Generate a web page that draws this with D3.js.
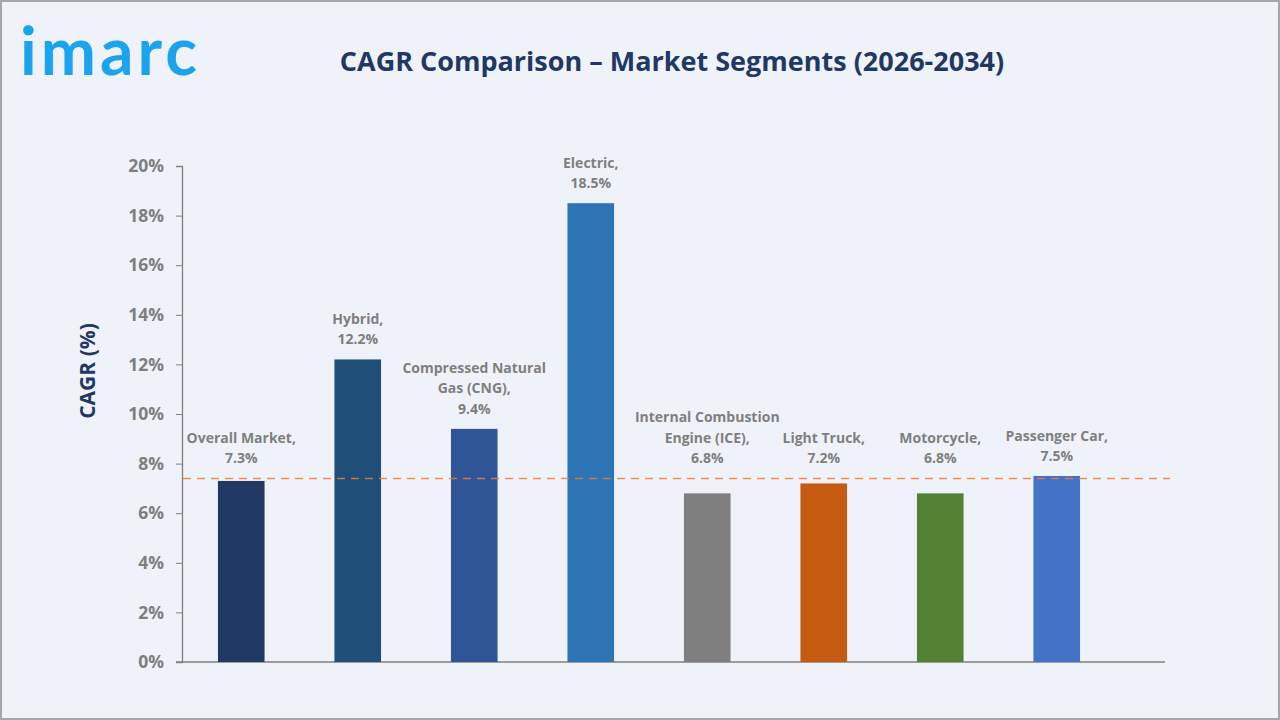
<!DOCTYPE html>
<html>
<head>
<meta charset="utf-8">
<script src="https://cdn.jsdelivr.net/npm/d3@7"></script>
<style>
  html, body { margin: 0; padding: 0; background: #eff3f9; }
  #chart { width: 1280px; height: 720px; }
</style>
</head>
<body>
<div id="chart"></div>
<script>
// chart data
const segments = ["Overall Market", "Hybrid", "Compressed Natural Gas (CNG)", "Electric",
    "Internal Combustion Engine (ICE)", "Light Truck", "Motorcycle", "Passenger Car"];
const labelLines = [
    ["Overall Market,"], ["Hybrid,"], ["Compressed Natural", "Gas (CNG),"], ["Electric,"],
    ["Internal Combustion", "Engine (ICE),"], ["Light Truck,"], ["Motorcycle,"], ["Passenger Car,"]
];
const cagr = [7.3, 12.2, 9.4, 18.5, 6.8, 7.2, 6.8, 7.5];
const barColors = ["#203864", "#1f4e79", "#2f5597", "#2e75b6", "#7f7f7f", "#c55a11", "#548235", "#4472c4"];
const referenceLine = 7.4;
const yTicks = [0, 2, 4, 6, 8, 10, 12, 14, 16, 18, 20];

const W = 1280, H = 720;
const svg = d3.select("#chart").append("svg")
    .attr("width", W)
    .attr("height", H);

// frame
svg.append("rect")
    .attr("x", 1).attr("y", 1)
    .attr("width", W - 2).attr("height", H - 2)
    .attr("fill", "#eff3f9")
    .attr("stroke", "#a6a6a6")
    .attr("stroke-width", 2);

// logo
svg.append("text")
    .attr("x", 20).attr("y", 75)
    .attr("font-family", "Lato, sans-serif")
    .attr("font-weight", "bold")
    .attr("font-size", 66)
    .attr("letter-spacing", 4)
    .attr("fill", "#1ba3ee")
    .text("imarc");

// title
svg.append("text")
    .attr("x", 672).attr("y", 71)
    .attr("text-anchor", "middle")
    .attr("font-family", "'Open Sans', sans-serif")
    .attr("font-weight", "bold")
    .attr("font-size", 27)
    .attr("fill", "#1f3864")
    .text("CAGR Comparison – Market Segments (2026-2034)");

// scales
const x = d3.scaleBand()
    .domain(segments)
    .range([183, 1115])
    .paddingInner(0.6)
    .paddingOuter(0.3);

const y = d3.scaleLinear()
    .domain([0, 20])
    .range([662, 166]);

// y axis
const yAxis = svg.append("g")
    .attr("transform", "translate(182,0)")
    .call(d3.axisLeft(y).tickValues(yTicks).tickSize(6).tickPadding(12).tickFormat(d => d + "%"));
yAxis.select(".domain").attr("stroke", "#7f7f7f").attr("stroke-width", 1.3);
yAxis.selectAll(".tick line").attr("stroke", "#7f7f7f");
yAxis.selectAll(".tick text")
    .attr("font-family", "'Open Sans', sans-serif")
    .attr("font-size", 17.5)
    .attr("font-weight", "bold")
    .attr("fill", "#7f7f7f");

// x axis line
svg.append("line")
    .attr("x1", 176).attr("x2", 1165)
    .attr("y1", y(0)).attr("y2", y(0))
    .attr("stroke", "#7f7f7f")
    .attr("stroke-width", 1.3);

// y axis title
svg.append("text")
    .attr("transform", "translate(95,371) rotate(-90)")
    .attr("text-anchor", "middle")
    .attr("font-family", "'Open Sans', sans-serif")
    .attr("font-weight", "bold")
    .attr("font-size", 21)
    .attr("fill", "#1f3864")
    .text("CAGR (%)");

// bars
svg.selectAll("rect.bar")
    .data(segments)
    .enter().append("rect")
    .attr("class", "bar")
    .attr("x", d => x(d))
    .attr("y", (d, i) => y(cagr[i]))
    .attr("width", x.bandwidth())
    .attr("height", (d, i) => y(0) - y(cagr[i]))
    .attr("fill", (d, i) => barColors[i]);

// dashed reference line
svg.append("line")
    .attr("x1", 183).attr("x2", 1170)
    .attr("y1", y(referenceLine)).attr("y2", y(referenceLine))
    .attr("stroke", "#ed7d31")
    .attr("stroke-width", 1.6)
    .attr("stroke-dasharray", "8,6")
    .attr("opacity", 0.85);

// data labels
const lineH = 20.5;
segments.forEach((d, i) => {
    const lines = labelLines[i].concat([cagr[i].toFixed(1) + "%"]);
    const base = Math.min(y(cagr[i]), y(referenceLine)) - 15;
    const t = svg.append("text")
        .attr("text-anchor", "middle")
        .attr("font-family", "'Open Sans', sans-serif")
        .attr("font-size", 14)
        .attr("font-weight", "bold")
        .attr("fill", "#7f7f7f");
    lines.forEach((ln, j) => {
        t.append("tspan")
            .attr("x", x(d) + x.bandwidth() / 2)
            .attr("y", base - (lines.length - 1 - j) * lineH)
            .text(ln);
    });
});
</script>
</body>
</html>
